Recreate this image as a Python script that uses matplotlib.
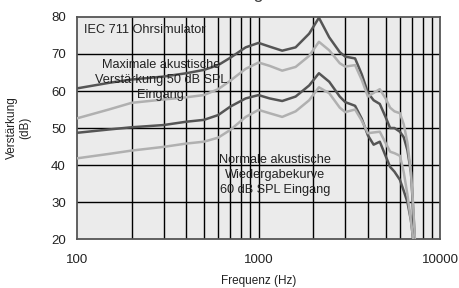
import matplotlib
matplotlib.use("Agg")
import matplotlib.pyplot as plt
from matplotlib.ticker import FixedLocator, NullFormatter

plt.rcParams['font.family'] = ['Liberation Sans', 'DejaVu Sans']

freq = [100, 150, 200, 300, 400, 500, 600, 700, 850, 1000, 1150, 1350, 1600,
        1900, 2150, 2450, 2800, 3000, 3400, 3700, 4000, 4300, 4650, 5000,
        5300, 5600, 6000, 6300, 6600, 6900, 7100, 7250]

# maximale akustische Verstaerkung (dunkel / hell)
max_dunkel = [60.7, 62.2, 63.1, 63.9, 64.8, 65.7, 67.0, 69.0, 71.8, 73.0, 72.0,
              70.9, 71.8, 75.5, 79.8, 74.5, 70.5, 69.3, 68.8, 64.5, 59.5, 57.5,
              56.5, 53.0, 50.0, 50.0, 49.0, 47.5, 44.0, 38.0, 28.0, 20.0]
max_hell = [52.6, 55.0, 56.8, 57.7, 58.3, 58.9, 60.5, 62.8, 66.0, 67.7, 66.8,
            65.5, 66.5, 69.5, 73.3, 71.0, 67.5, 66.6, 67.0, 63.0, 58.5, 59.5,
            60.5, 58.0, 55.5, 54.5, 54.0, 51.0, 46.0, 38.0, 29.0, 20.0]

# normale Wiedergabekurve (dunkel / hell)
norm_dunkel = [48.7, 49.6, 50.2, 50.8, 51.7, 52.2, 53.5, 55.8, 58.0, 58.9, 58.0,
               57.3, 58.5, 61.5, 64.8, 62.5, 58.5, 57.0, 56.0, 52.5, 48.0, 45.5,
               46.3, 42.5, 39.5, 38.2, 36.0, 33.0, 30.0, 25.0, 20.0, 18.0]
norm_hell = [41.8, 43.0, 43.9, 44.9, 45.8, 46.3, 47.4, 49.5, 53.0, 54.9, 54.0,
             53.0, 54.5, 57.5, 61.0, 59.4, 55.5, 54.3, 55.0, 52.0, 48.6, 48.8,
             49.0, 46.0, 43.6, 43.2, 42.5, 38.0, 32.0, 25.0, 20.0, 18.0]

y_ticks = [20, 30, 40, 50, 60, 70, 80]
x_ticks = [100, 1000, 10000]
x_grid = [200, 300, 400, 500, 600, 700, 800, 900, 1000,
          2000, 3000, 4000, 5000, 6000, 7000, 8000, 9000]

fig = plt.figure(figsize=(4.6, 2.88), dpi=100)
ax = fig.add_axes([0.167, 0.170, 0.790, 0.771])
ax.set_facecolor('#ebebeb')

ax.set_xscale('log')
ax.set_xlim(100, 10000)
ax.set_ylim(20, 80)

# Gitter
for y in y_ticks[1:-1]:
    ax.axhline(y, color='black', lw=1.0, zorder=1)
for x in x_grid:
    ax.axvline(x, color='black', lw=1.0, zorder=1)

ax.plot(freq, max_dunkel, color='#555555', lw=1.8, zorder=3)
ax.plot(freq, max_hell, color='#b0b0b0', lw=1.8, zorder=3)
ax.plot(freq, norm_dunkel, color='#555555', lw=1.8, zorder=3)
ax.plot(freq, norm_hell, color='#b0b0b0', lw=1.8, zorder=3)

ax.xaxis.set_major_locator(FixedLocator(x_ticks))
ax.xaxis.set_minor_locator(FixedLocator([]))
ax.xaxis.set_minor_formatter(NullFormatter())
ax.set_xticklabels(['100', '1000', '10000'])
ax.set_yticks(y_ticks)
ax.tick_params(length=0, labelsize=9.5, labelcolor='#222222')
ax.tick_params(axis='x', pad=11)
ax.tick_params(axis='y', pad=8)

for s in ax.spines.values():
    s.set_color('#555555')
    s.set_linewidth(1.3)

ax.set_xlabel('Frequenz (Hz)', fontsize=8.5, color='#222222', labelpad=6)
ax.set_ylabel('Verstärkung\n(dB)', fontsize=8.5, color='#222222', labelpad=14)

txt = dict(fontsize=9.2, color='#222222', zorder=4)
ax.text(110, 76.5, 'IEC 711 Ohrsimulator', ha='left', va='center', **txt)
ax.text(290, 63.0, 'Maximale akustische\nVerstärkung 50 dB SPL\nEingang',
        ha='center', va='center', linespacing=1.35, **txt)
ax.text(1230, 37.3, 'Normale akustische\nWiedergabekurve\n60 dB SPL Eingang',
        ha='center', va='center', linespacing=1.35, **txt)

# abgeschnittener Titel oben
fig.text(0.48, 1.006, 'Akustische Wiedergabekurve', ha='center', va='baseline',
         fontsize=13, color='#444444')

fig.savefig('out.png', dpi=100)
